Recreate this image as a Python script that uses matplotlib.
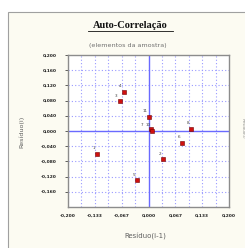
import matplotlib
matplotlib.use("Agg")
import matplotlib.pyplot as plt
from matplotlib.patches import Rectangle

# residual pairs (i-1, i)
res_prev = [-0.127, 0.036, -0.072, -0.061, -0.028, 0.084, 0.005, 0.106, 0.008, 0.000]
res_curr = [-0.060, -0.074, 0.079, 0.103, -0.130, -0.031, 0.004, 0.006, 0.001, 0.037]
point_labels = ["1", "2", "3", "4", "5", "6", "7", "8", "10", "11"]

x_ticks = [-0.2, -0.1333, -0.0667, 0.0, 0.0667, 0.1333, 0.2]
x_tick_labels = ["-0,200", "-0,133", "-0,067", "0,000", "0,067", "0,133", "0,200"]
x_minor = [-0.1667, -0.1, -0.0333, 0.0333, 0.1, 0.1667]
y_ticks = [0.2, 0.16, 0.12, 0.08, 0.04, 0.0, -0.04, -0.08, -0.12, -0.16]
y_tick_labels = ["0,200", "0,160", "0,120", "0,080", "0,040", "0,000", "-0,040", "-0,080", "-0,120", "-0,160"]

fig = plt.figure(figsize=(2.45, 2.48), dpi=100)
fig.patch.set_facecolor("white")

# chart area box (cream, cut by the right and bottom edges)
fig.patches.append(Rectangle((8/245, -0.1), 1.2, (1 - 12/248) + 0.1, transform=fig.transFigure,
                             facecolor="#fcfbf2", edgecolor="#a0a0a0", linewidth=0.8, zorder=-5))

ax = fig.add_axes([68/245, 1 - 207/248, (229 - 68)/245, (207 - 55)/248])
ax.set_zorder(2)
ax.set_facecolor("white")
ax.set_xlim(-0.2, 0.2)
ax.set_ylim(-0.2, 0.2)

grid_col = "#9a9aff"
for v in x_ticks[1:-1] + x_minor:
    if v != 0.0:
        ax.axvline(v, color=grid_col, linestyle=(0, (1, 2)), linewidth=0.8, zorder=1)
for v in y_ticks[1:]:
    if v != 0.0:
        ax.axhline(v, color=grid_col, linestyle=(0, (1, 2)), linewidth=0.8, zorder=1)
ax.axvline(0, color="#6a6aff", linewidth=1.0, zorder=2)
ax.axhline(0, color="#6a6aff", linewidth=1.0, zorder=2)

ax.plot(res_prev, res_curr, linestyle="none", marker="s", markersize=2.2,
        markerfacecolor="#d01010", markeredgecolor="#700000", markeredgewidth=0.4, zorder=4)
for xp, yp, lab in zip(res_prev, res_curr, point_labels):
    off = (-6, 1.5) if lab == "7" else (-2.5, 2.5)
    ax.annotate(lab, (xp, yp), xytext=off, textcoords="offset points",
                fontsize=3, color="#404040", ha="center", va="bottom", zorder=5)

ax.set_xticks(x_ticks)
ax.set_xticklabels(x_tick_labels)
ax.set_yticks(y_ticks)
ax.set_yticklabels(y_tick_labels)
ax.tick_params(labelsize=3.2, colors="#202020", length=2, width=0.5, pad=6)
ax.tick_params(axis="x", length=0, pad=5)
for t in ax.get_xticklabels() + ax.get_yticklabels():
    t.set_fontweight("bold")
for s in ax.spines.values():
    s.set_color("#8c8c8c")
    s.set_linewidth(1.0)

fig.text(130/245, 1 - 25/248, "Auto-Correlação", family="Liberation Serif", fontweight="bold",
         fontsize=7.5, color="#101010", ha="center", va="center")
fig.add_artist(plt.Line2D([88/245, 173/245], [1 - 31/248, 1 - 31/248], color="#101010", linewidth=0.6))
fig.text(128/245, 1 - 45/248, "(elementos da amostra)", fontsize=4.6, color="#707070",
         ha="center", va="center")
fig.text(22/245, 1 - 132/248, "Resíduo(i)", fontsize=4.6, color="#606060", rotation=90,
         ha="center", va="center")
fig.text(145/245, 1 - 237/248, "Resíduo(i-1)", fontsize=5, color="#606060",
         ha="center", va="center")
fig.text(241/245, 1 - 128/248, "Resíduo(i)", fontsize=3, color="#909090", rotation=270,
         ha="left", va="center")

fig.savefig("out.png", dpi=100)
